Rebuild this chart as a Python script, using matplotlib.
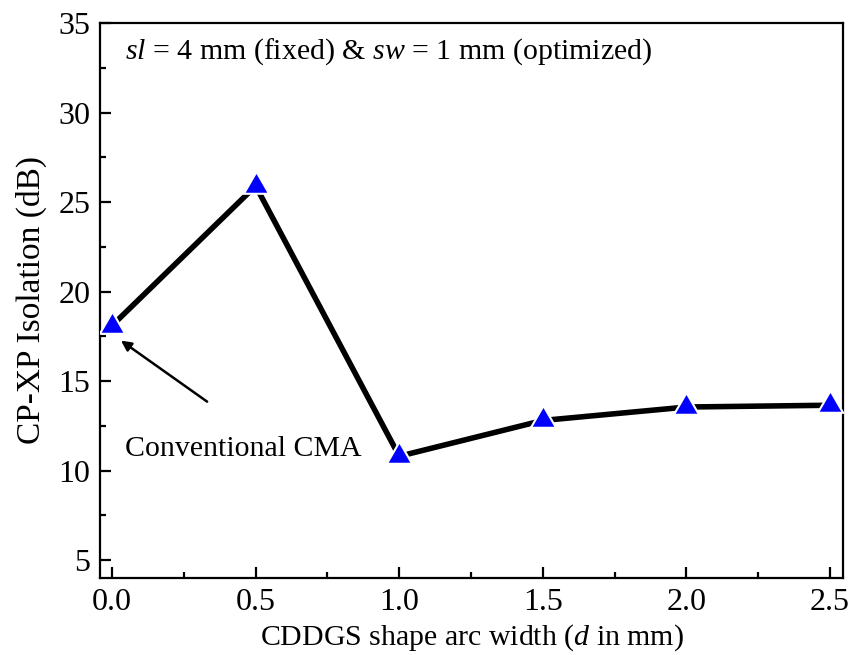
import numpy as np
import matplotlib
matplotlib.use("Agg")
import matplotlib.pyplot as plt
from matplotlib.ticker import MultipleLocator

plt.rcParams['font.family'] = ['Liberation Serif', 'DejaVu Serif']
plt.rcParams['mathtext.fontset'] = 'custom'
plt.rcParams['mathtext.rm'] = 'Liberation Serif'
plt.rcParams['mathtext.it'] = 'Liberation Serif:italic'

# === Data ===
arc_width = [0.0, 0.5, 1.0, 1.5, 2.0, 2.5]
isolation = [18.1, 25.9, 10.8, 12.8, 13.55, 13.65]

# equilateral triangle, centred on its centroid
tri = [(-1, -0.577), (1, -0.577), (0, 1.155)]

fig = plt.figure(figsize=(8.51, 6.55), dpi=100)
ax = fig.add_axes([100/851, 1-578/655, 743/851, 555/655])

ax.plot(arc_width, isolation, color='black', lw=4.0, zorder=2)
# white halo gives the gap between line and symbol
ax.plot(arc_width, isolation, ls='none', marker=tri, ms=24, color='white',
        mew=0, zorder=3)
ax.plot(arc_width, isolation, ls='none', marker=tri, ms=18, color='blue',
        mew=0, zorder=4)

ax.set_xlim(-0.042, 2.545)
ax.set_ylim(4.0, 35)
ax.xaxis.set_major_locator(MultipleLocator(0.5))
ax.xaxis.set_minor_locator(MultipleLocator(0.25))
ax.yaxis.set_major_locator(MultipleLocator(5))
ax.yaxis.set_minor_locator(MultipleLocator(2.5))
ax.set_yticks([5, 10, 15, 20, 25, 30, 35])
ax.xaxis.set_major_formatter(plt.FormatStrFormatter('%.1f'))

ax.tick_params(which='both', direction='in', top=False, right=False,
               labelsize=23, width=1.6)
ax.tick_params(which='major', length=8, pad=7)
ax.tick_params(which='minor', length=4.5)
for s in ax.spines.values():
    s.set_linewidth(1.6)

ax.set_xlabel("CDDGS shape arc width ($d$ in mm)", fontsize=21.5, labelpad=4)
ax.set_ylabel("CP-XP Isolation (dB)", fontsize=24, labelpad=8)

ax.text(0.045, 33.4, "$sl$ = 4 mm (fixed) & $sw$ = 1 mm (optimized)",
        fontsize=21.5, va='center', ha='left')
ax.text(0.045, 11.2, "Conventional CMA", fontsize=21.5, va='center', ha='left')
ax.annotate("", xy=(0.031, 17.26), xytext=(0.331, 13.85),
            arrowprops=dict(arrowstyle='-|>', color='black', lw=1.8,
                            mutation_scale=15, shrinkA=0, shrinkB=0))

fig.savefig("out.png", dpi=100)
